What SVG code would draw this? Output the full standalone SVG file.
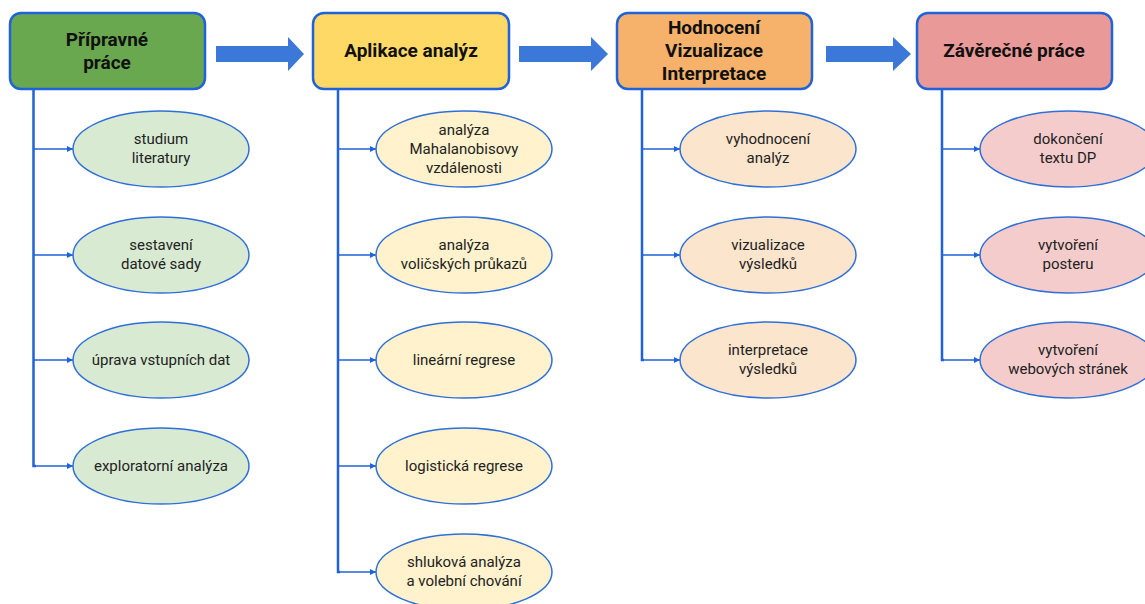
<svg xmlns="http://www.w3.org/2000/svg" width="1145" height="604" viewBox="0 0 1145 604">
<defs>
<style>
.box{stroke:#1f62d9;stroke-width:2.5}
.ell{stroke:#2f6fd8;stroke-width:1.5}
.t{font-family:Roboto,"Liberation Sans",sans-serif;font-weight:bold;font-size:19px;fill:#111;text-anchor:middle}
.s{font-family:Roboto,"Liberation Sans",sans-serif;font-size:15px;fill:#222;text-anchor:middle}
.v{stroke:#1f62d9;stroke-width:2.5;fill:none}
.h{stroke:#1f62d9;stroke-width:1.5;fill:none;marker-end:url(#ah)}
.big{fill:#3c78d8}
</style>
<marker id="ah" viewBox="0 0 10 10" refX="10" refY="5" markerWidth="6" markerHeight="6" markerUnits="userSpaceOnUse" orient="auto"><path d="M0,0 L10,5 L0,10 z" fill="#1f62d9"/></marker>
</defs>
<rect width="1145" height="604" fill="#fff"/>
<g id="connectors">
<path class="big" d="M216,46 H288 V37 L304,54 L288,71 V62 H216 z"/>
<path class="big" d="M519,46 H591 V37 L608,54 L591,71 V62 H519 z"/>
<path class="big" d="M826,46 H893 V37 L911,54 L893,71 V62 H826 z"/>
<path class="v" d="M33.5,89 V466 H36"/>
<path class="h" d="M33.5,149 H73"/>
<path class="h" d="M33.5,255 H73"/>
<path class="h" d="M33.5,360 H73"/>
<path class="h" d="M33.5,466 H73"/>
<path class="v" d="M338,89 V572 H340"/>
<path class="h" d="M338,149 H376"/>
<path class="h" d="M338,255 H376"/>
<path class="h" d="M338,360 H376"/>
<path class="h" d="M338,466 H376"/>
<path class="h" d="M338,572 H376"/>
<path class="v" d="M642,89 V360 H644"/>
<path class="h" d="M642,149 H680"/>
<path class="h" d="M642,255 H680"/>
<path class="h" d="M642,360 H680"/>
<path class="v" d="M942,89 V360 H944"/>
<path class="h" d="M942,149 H980"/>
<path class="h" d="M942,255 H980"/>
<path class="h" d="M942,360 H980"/>
</g>
<g id="n1"><rect class="box" x="10" y="13" width="195" height="76" rx="11" fill="#6aa84f"/><text class="t" x="107" y="46">Přípravné</text><text class="t" x="107" y="69">práce</text></g>
<g id="n2"><rect class="box" x="313" y="13" width="196" height="76" rx="11" fill="#ffd966"/><text class="t" x="411" y="57">Aplikace analýz</text></g>
<g id="n3"><rect class="box" x="617" y="13" width="195" height="76" rx="11" fill="#f6b26b"/><text class="t" x="714" y="34">Hodnocení</text><text class="t" x="714" y="57">Vizualizace</text><text class="t" x="714" y="80">Interpretace</text></g>
<g id="n4"><rect class="box" x="917" y="13" width="195" height="76" rx="11" fill="#ea9999"/><text class="t" x="1014" y="57">Závěrečné práce</text></g>

<g id="a1"><ellipse class="ell" cx="161" cy="149" rx="88" ry="38" fill="#d9ead3"/><text class="s" x="161" y="144">studium</text><text class="s" x="161" y="163">literatury</text></g>
<g id="a2"><ellipse class="ell" cx="161" cy="255" rx="88" ry="38" fill="#d9ead3"/><text class="s" x="161" y="250">sestavení</text><text class="s" x="161" y="269">datové sady</text></g>
<g id="a3"><ellipse class="ell" cx="161" cy="360" rx="88" ry="38" fill="#d9ead3"/><text class="s" x="161" y="365">úprava vstupních dat</text></g>
<g id="a4"><ellipse class="ell" cx="161" cy="466" rx="88" ry="38" fill="#d9ead3"/><text class="s" x="161" y="471">exploratorní analýza</text></g>

<g id="b1"><ellipse class="ell" cx="464" cy="149" rx="88" ry="38" fill="#fff2cc"/><text class="s" x="464" y="135">analýza</text><text class="s" x="464" y="154">Mahalanobisovy</text><text class="s" x="464" y="173">vzdálenosti</text></g>
<g id="b2"><ellipse class="ell" cx="464" cy="255" rx="88" ry="38" fill="#fff2cc"/><text class="s" x="464" y="250">analýza</text><text class="s" x="464" y="269">voličských průkazů</text></g>
<g id="b3"><ellipse class="ell" cx="464" cy="360" rx="88" ry="38" fill="#fff2cc"/><text class="s" x="464" y="365">lineární regrese</text></g>
<g id="b4"><ellipse class="ell" cx="464" cy="466" rx="88" ry="38" fill="#fff2cc"/><text class="s" x="464" y="471">logistická regrese</text></g>
<g id="b5"><ellipse class="ell" cx="464" cy="572" rx="88" ry="38" fill="#fff2cc"/><text class="s" x="464" y="567">shluková analýza</text><text class="s" x="464" y="586">a volební chování</text></g>

<g id="c1"><ellipse class="ell" cx="768" cy="149" rx="88" ry="38" fill="#fce5cd"/><text class="s" x="768" y="144">vyhodnocení</text><text class="s" x="768" y="163">analýz</text></g>
<g id="c2"><ellipse class="ell" cx="768" cy="255" rx="88" ry="38" fill="#fce5cd"/><text class="s" x="768" y="250">vizualizace</text><text class="s" x="768" y="269">výsledků</text></g>
<g id="c3"><ellipse class="ell" cx="768" cy="360" rx="88" ry="38" fill="#fce5cd"/><text class="s" x="768" y="355">interpretace</text><text class="s" x="768" y="374">výsledků</text></g>

<g id="d1"><ellipse class="ell" cx="1068" cy="149" rx="88" ry="38" fill="#f4cccc"/><text class="s" x="1068" y="144">dokončení</text><text class="s" x="1068" y="163">textu DP</text></g>
<g id="d2"><ellipse class="ell" cx="1068" cy="255" rx="88" ry="38" fill="#f4cccc"/><text class="s" x="1068" y="250">vytvoření</text><text class="s" x="1068" y="269">posteru</text></g>
<g id="d3"><ellipse class="ell" cx="1068" cy="360" rx="88" ry="38" fill="#f4cccc"/><text class="s" x="1068" y="355">vytvoření</text><text class="s" x="1068" y="374">webových stránek</text></g>
</svg>
